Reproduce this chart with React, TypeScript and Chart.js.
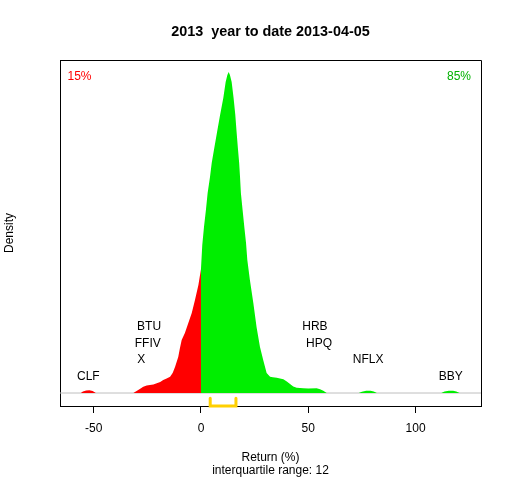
import React, { useEffect, useRef } from "react";
import { Chart, registerables } from "chart.js";

Chart.register(...registerables);

const TITLE = "2013  year to date 2013-04-05";
const X_TICKS = [-50, 0, 50, 100];
const X_MIN = -65.7;
const X_MAX = 130.5;
const Y_MIN = -0.0026;
const Y_MAX = 0.0666;

const RETURN_GRID = [
  -58.4, -56, -55, -53.5, -52, -50.5, -49, -31.5, -30, -28.5, -26.9, -25.3, -23.8, -22.2, -20.6,
  -19, -17.6, -16, -14.4, -13.2, -12.1, -10.6, -9.8, -9, -7.5, -5.9, -4.3, -2.8, -1.2, 0, 0.6, 1.4,
  2.3, 3.1, 4.2, 5, 6.2, 7.5, 8.9, 10.4, 11.5, 12.3, 12.9, 13.5, 14.3, 15.2, 16, 16.6, 17.2, 17.8,
  18.2, 18.6, 19.4, 20.2, 21, 21.6, 22.8, 24.4, 25.9, 27.5, 29, 30.6, 32.2, 33.5, 35.3, 38.4, 40,
  41.5, 43, 44.6, 47.7, 50, 53.9, 55.5, 57, 58.6, 73.5, 75, 77, 79, 80.5, 82, 112, 113.5, 115.5,
  117.5, 119, 120.5, 123.2,
];
const DENSITY = [
  0, 0, 0.0003, 0.0005, 0.00054, 0.0004, 0, 0, 0.0004, 0.0008, 0.00126, 0.0015, 0.0016, 0.0017,
  0.00194, 0.0022, 0.0026, 0.0029, 0.00326, 0.004, 0.0052, 0.0072, 0.009, 0.0106, 0.012, 0.014,
  0.016, 0.0186, 0.0216, 0.0248, 0.0296, 0.0332, 0.0366, 0.04, 0.0432, 0.046, 0.049, 0.0522,
  0.0556, 0.059, 0.0622, 0.0636, 0.0642, 0.0636, 0.0622, 0.059, 0.0556, 0.0522, 0.049, 0.046,
  0.0432, 0.04, 0.0366, 0.0332, 0.03, 0.0266, 0.0226, 0.018, 0.0132, 0.0092, 0.0066, 0.004,
  0.00326, 0.00316, 0.00306, 0.00274, 0.0023, 0.0018, 0.0013, 0.00106, 0.00094, 0.0009, 0.00094,
  0.00076, 0.00046, 0, 0, 0.00024, 0.00044, 0.00046, 0.0003, 0, 0, 0.0003, 0.00046, 0.00046,
  0.0003, 0, 0,
];

const QUARTILES = [4.3, 16.3];
const IQR = 12;
const PCT_NEG = 15;
const PCT_POS = 85;

const TICKERS = ["CLF", "X", "FFIV", "BTU", "HRB", "HPQ", "NFLX", "BBY"];
const TICKER_RETURN = [-52.5, -27.8, -24.8, -24.2, 53.1, 55.0, 77.9, 116.4];
const TICKER_LEVEL = [1, 2, 3, 4, 4, 3, 2, 1];

const RED = "#FF0000";
const GREEN = "#00EE00";
const FONT = '"Liberation Sans", Arial, Helvetica, sans-serif';

export default function App() {
  const ref = useRef<HTMLCanvasElement | null>(null);

  useEffect(() => {
    document.body.style.margin = "0";
    const canvas = ref.current;
    if (!canvas) return;

    const pts = RETURN_GRID.map((x, i) => ({ x, y: DENSITY[i] }));
    const neg = pts.filter((p) => p.x <= 0);
    const pos = pts.filter((p) => p.x >= 0);

    const overlay = {
      id: "overlay",
      afterDatasetsDraw(chart: any) {
        const { ctx, chartArea: a, scales } = chart;
        const xs = scales.x;
        const ys = scales.y;
        ctx.save();
        ctx.strokeStyle = "#000";
        ctx.lineWidth = 1;
        const t = Math.round(a.top) + 0.5;
        const r = Math.round(a.right) + 0.5;
        const b = Math.round(a.bottom) + 0.5;
        const l = Math.round(a.left) + 0.5;
        ctx.beginPath();
        ctx.moveTo(l, t);
        ctx.lineTo(r, t);
        ctx.lineTo(r, b);
        ctx.stroke();

        ctx.font = "12px " + FONT;
        ctx.textBaseline = "middle";
        ctx.fillStyle = RED;
        ctx.textAlign = "left";
        ctx.fillText(PCT_NEG + "%", a.left + 7.5, a.top + 17);
        ctx.fillStyle = "#00B000";
        ctx.textAlign = "right";
        ctx.fillText(PCT_POS + "%", a.right - 10, a.top + 17);

        ctx.fillStyle = "#000";
        ctx.textAlign = "center";
        TICKERS.forEach((name, i) => {
          const px = xs.getPixelForValue(TICKER_RETURN[i]);
          const py = ys.getPixelForValue(TICKER_LEVEL[i] * 0.0033);
          ctx.fillText(name, px, py);
        });
        ctx.restore();
      },
    };

    const chart = new Chart(canvas, {
      type: "line",
      data: {
        datasets: [
          {
            label: "iqr",
            data: [
              { x: QUARTILES[0], y: -0.00106 },
              { x: QUARTILES[0], y: Y_MIN },
              { x: QUARTILES[1], y: Y_MIN },
              { x: QUARTILES[1], y: -0.00106 },
            ],
            borderColor: "#FFD000",
            borderWidth: 3,
            pointRadius: 0,
            fill: false,
            clip: false as any,
            borderCapStyle: "round",
            borderJoinStyle: "miter",
          },
          {
            label: "negative",
            data: neg,
            backgroundColor: RED,
            borderWidth: 0,
            borderColor: "rgba(0,0,0,0)",
            pointRadius: 0,
            fill: "origin",
          },
          {
            label: "positive",
            data: pos,
            backgroundColor: GREEN,
            borderWidth: 0,
            borderColor: "rgba(0,0,0,0)",
            pointRadius: 0,
            fill: "origin",
          },
          {
            label: "baseline",
            data: [
              { x: X_MIN, y: 0 },
              { x: X_MAX, y: 0 },
            ],
            borderColor: "#BEBEBE",
            borderWidth: 1,
            pointRadius: 0,
            fill: false,
          },
        ],
      },
      options: {
        animation: false,
        responsive: true,
        maintainAspectRatio: false,
        devicePixelRatio: 1,
        layout: { padding: { left: 0, right: 31, top: 0, bottom: 0 } },
        plugins: {
          legend: { display: false },
          tooltip: { enabled: false },
          title: {
            display: true,
            fullSize: false,
            text: TITLE,
            color: "#000",
            font: { family: FONT, size: 14.4, weight: "bold", lineHeight: 1.2 },
            padding: { top: 23, bottom: 19.72 },
          },
        },
        scales: {
          x: {
            type: "linear",
            min: X_MIN,
            max: X_MAX,
            afterBuildTicks: (scale: any) => {
              scale.ticks = X_TICKS.map((v) => ({ value: v }));
            },
            afterFit: (scale: any) => {
              scale.height = 74;
            },
            grid: {
              display: true,
              drawOnChartArea: false,
              drawTicks: true,
              tickLength: 7,
              color: "#000",
              lineWidth: 1,
            },
            border: { display: true, color: "#000", width: 1 },
            ticks: {
              color: "#000",
              font: { family: FONT, size: 12 },
              padding: 8,
              maxRotation: 0,
              autoSkip: false,
              callback: (v: any) => String(v),
            },
            title: {
              display: true,
              text: ["Return (%)", "interquartile range: " + IQR],
              color: "#000",
              font: { family: FONT, size: 12, lineHeight: 13 / 12 },
              padding: { top: 0, bottom: 2.5 },
            },
          },
          y: {
            type: "linear",
            min: Y_MIN,
            max: Y_MAX,
            afterFit: (scale: any) => {
              scale.width = 60;
            },
            grid: { display: false, drawTicks: false },
            border: { display: true, color: "#000", width: 1 },
            ticks: { display: false },
            title: {
              display: true,
              text: "Density",
              color: "#000",
              font: { family: FONT, size: 12, lineHeight: 13 / 12 },
              padding: { top: 3.5, bottom: 0 },
            },
          },
        },
      },
      plugins: [overlay],
    });

    return () => chart.destroy();
  }, []);

  return (
    <div style={{ width: 512, height: 480, position: "relative" }}>
      <canvas ref={ref} width={512} height={480} />
    </div>
  );
}
